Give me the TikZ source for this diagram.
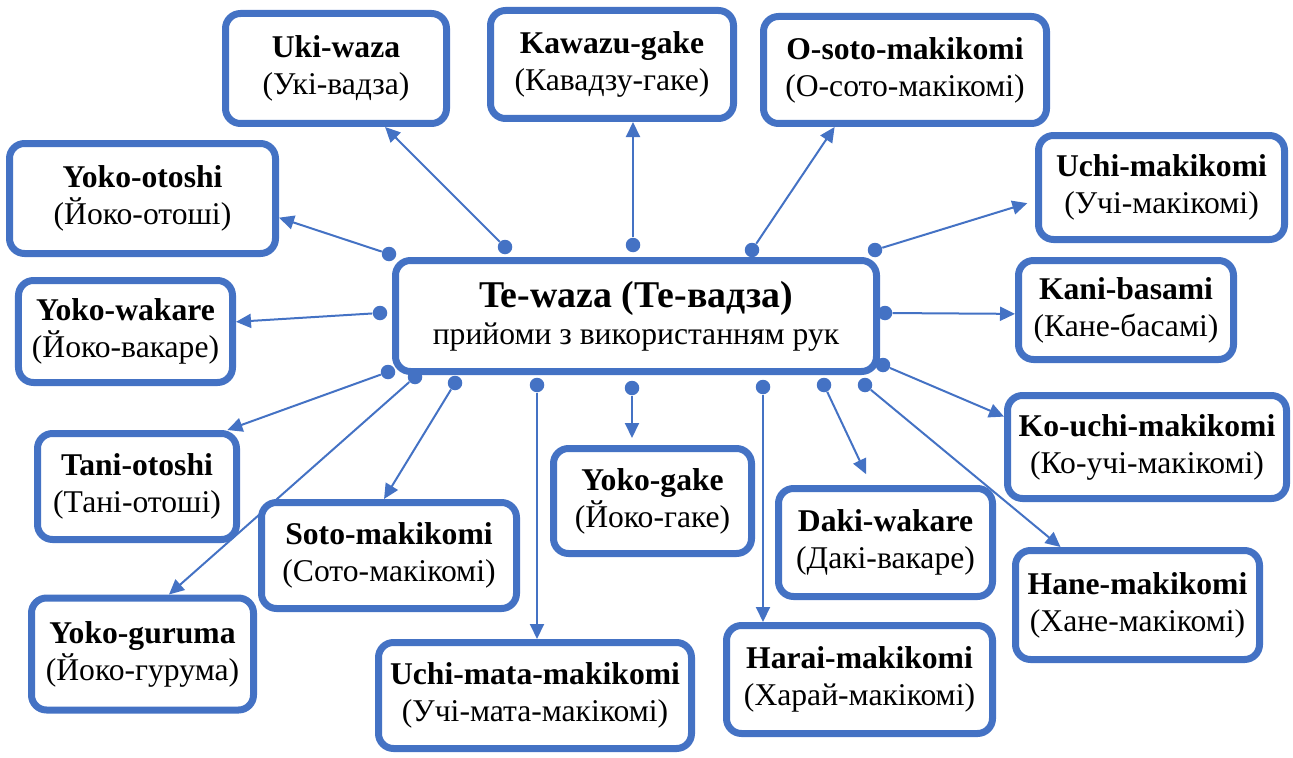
\documentclass[tikz,border=0pt]{standalone}
\usepackage{fontspec}
\setmainfont{Liberation Serif}
\usetikzlibrary{arrows.meta}
\definecolor{wazablue}{HTML}{4472C4}
\tikzset{>={Triangle[length=.3cm,width=.28cm]},
  box/.style={draw=wazablue,line width=.14cm,rounded corners=.3cm,fill=white,
    align=center,inner sep=2pt,font=\fontsize{18}{21}\selectfont},
  dot/.style={circle,fill=wazablue,inner sep=0pt,minimum size=.29cm},
  link/.style={->,draw=wazablue,line width=.04cm}}

\begin{document}
\begin{tikzpicture}
\useasboundingbox (0,0) rectangle (25.86,15.14);
% centre
\node[box,minimum width=9.62cm,minimum height=2.22cm] (hub) at (12.72,8.82)
  {{\fontsize{21.5}{25}\selectfont\textbf{Te-waza (Те-вадза)}}\\прийоми з використанням рук};
% techniques
\node[box,minimum width=4.42cm,minimum height=2.20cm] (uki) at (6.72,13.77) {\textbf{Uki-waza}\\(Укі-вадза)};
\node[box,minimum width=4.86cm,minimum height=2.16cm] (kawazu) at (12.24,13.85) {\textbf{Kawazu-gake}\\(Кавадзу-гаке)};
\node[box,minimum width=5.66cm,minimum height=2.14cm] (osoto) at (18.10,13.74) {\textbf{O-soto-makikomi}\\(О-сото-макікомі)};
\node[box,minimum width=4.92cm,minimum height=2.08cm] (uchimak) at (23.23,11.39) {\textbf{Uchi-makikomi}\\(Учі-макікомі)};
\node[box,minimum width=4.30cm,minimum height=1.98cm] (kani) at (22.52,8.94) {\textbf{Kani-basami}\\(Кане-басамі)};
\node[box,minimum width=5.58cm,minimum height=2.06cm] (kouchi) at (22.94,6.20) {\textbf{Ko-uchi-makikomi}\\(Ко-учі-макікомі)};
\node[box,minimum width=4.88cm,minimum height=2.18cm] (hane) at (22.75,3.04) {\textbf{Hane-makikomi}\\(Хане-макікомі)};
\node[box,minimum width=5.32cm,minimum height=2.16cm] (harai) at (17.19,1.55) {\textbf{Harai-makikomi}\\(Харай-макікомі)};
\node[box,minimum width=4.28cm,minimum height=2.16cm] (daki) at (17.71,4.29) {\textbf{Daki-wakare}\\(Дакі-вакаре)};
\node[box,minimum width=3.96cm,minimum height=2.10cm] (yokogake) at (13.05,5.12) {\textbf{Yoko-gake}\\(Йоко-гаке)};
\node[box,minimum width=6.26cm,minimum height=2.12cm] (uchimata) at (10.70,1.23) {\textbf{Uchi-mata-makikomi}\\(Учі-мата-макікомі)};
\node[box,minimum width=5.10cm,minimum height=2.12cm] (soto) at (7.78,4.03) {\textbf{Soto-makikomi}\\(Сото-макікомі)};
\node[box,minimum width=4.44cm,minimum height=2.24cm] (guruma) at (2.85,2.06) {\textbf{Yoko-guruma}\\(Йоко-гурума)};
\node[box,minimum width=3.98cm,minimum height=2.12cm] (tani) at (2.74,5.41) {\textbf{Tani-otoshi}\\(Тані-отоші)};
\node[box,minimum width=4.28cm,minimum height=2.04cm] (wakare) at (2.51,8.51) {\textbf{Yoko-wakare}\\(Йоко-вакаре)};
\node[box,minimum width=5.32cm,minimum height=2.20cm] (otoshi) at (2.85,11.17) {\textbf{Yoko-otoshi}\\(Йоко-отоші)};
% connection points on the centre box
\node[dot] (pUki) at (10.10,10.20) {};\node[dot] (pKawazu) at (12.66,10.24) {};
\node[dot] (pOsoto) at (15.04,10.14) {};\node[dot] (pUchimak) at (17.50,10.14) {};
\node[dot] (pKani) at (17.70,8.88) {};\node[dot] (pKouchi) at (17.66,7.84) {};
\node[dot] (pHane) at (17.30,7.44) {};\node[dot] (pDaki) at (16.48,7.44) {};
\node[dot] (pHarai) at (15.26,7.40) {};\node[dot] (pYokogake) at (12.64,7.38) {};
\node[dot] (pUchimata) at (10.74,7.44) {};\node[dot] (pSoto) at (9.10,7.48) {};
\node[dot] (pGuruma) at (8.30,7.60) {};\node[dot] (pTani) at (7.76,7.70) {};
\node[dot] (pWakare) at (7.60,8.88) {};\node[dot] (pOtoshi) at (7.78,10.06) {};
% arrows
\draw[link] (pUki)--(uki.-50);\draw[link] (pKawazu)--(pKawazu|-kawazu.south);
\draw[link] (pOsoto)--(osoto.-141);\draw[link,shorten >=.16cm] (pUchimak)--(uchimak.-174);
\draw[link] (pKani)--(kani.-178.5);\draw[link] (pKouchi)--(kouchi.168.5);
\draw[link] (pHane)--(hane.143.7);\draw[link,shorten >=.24cm] (pDaki)--(daki.104);
\draw[link] (pHarai)--(pHarai|-harai.north);\draw[link,shorten >=.14cm] (pYokogake)--(pYokogake|-yokogake.north);
\draw[link] (pUchimata)--(pUchimata|-uchimata.north);\draw[link] (pSoto)--(soto.95);
\draw[link] (pGuruma)--(guruma.66);\draw[link] (pTani)--(tani.32);
\draw[link] (pWakare)--(wakare.5.3);\draw[link] (pOtoshi)--(otoshi.-8);
\end{tikzpicture}
\end{document}
